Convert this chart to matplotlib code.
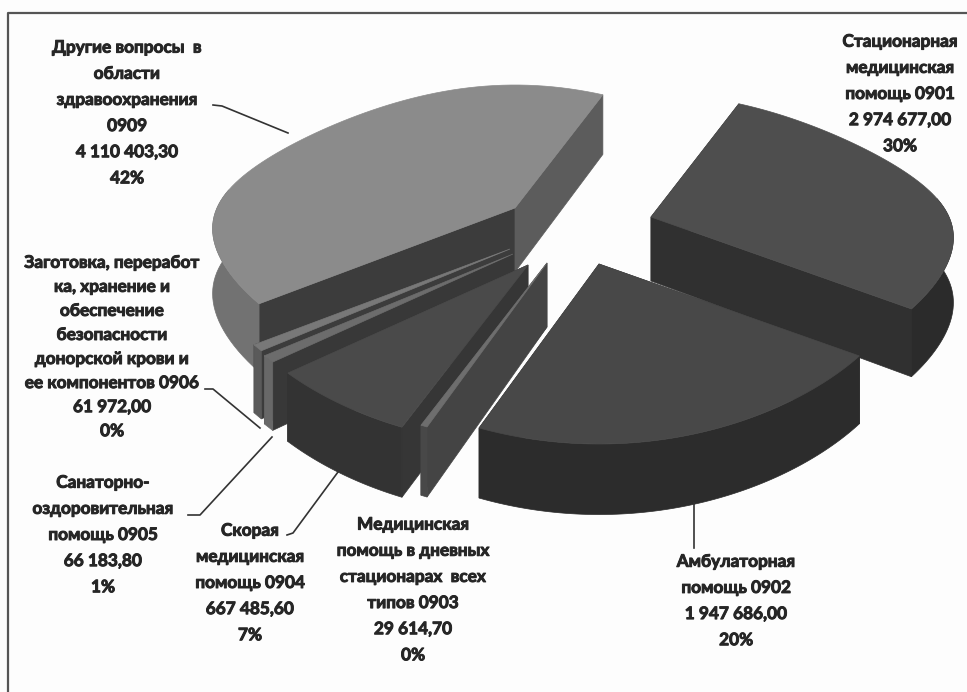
import numpy as np
import matplotlib
matplotlib.use("Agg")
import matplotlib.pyplot as plt
from matplotlib.patches import Polygon
import matplotlib.patheffects as pe

codes = ["0901", "0902", "0903", "0904", "0905", "0906", "0909"]
values = [2974677.00, 1947686.00, 29614.70, 667485.60, 66183.80, 61972.00, 4110403.30]
value_text = ["2 974 677,00", "1 947 686,00", "29 614,70", "667 485,60", "66 183,80", "61 972,00", "4 110 403,30"]
pct_text = ["30%", "20%", "0%", "7%", "1%", "0%", "42%"]
names = [
    "Стационарная\nмедицинская\nпомощь 0901",
    "Амбулаторная\nпомощь 0902",
    "Медицинская\nпомощь в дневных\nстационарах  всех\nтипов 0903",
    "Скорая\nмедицинская\nпомощь 0904",
    "Санаторно-\nоздоровительная\nпомощь 0905",
    "Заготовка, переработ\nка, хранение и\nобеспечение\nбезопасности\nдонорской крови и\nее компонентов 0906",
    "Другие вопросы  в\nобласти\nздравоохранения\n0909",
]

# style / layout, pixels of the picture
start_angle = -70.0
apex = [(651, 217), (599, 264), (547, 263), (528, 265), (513, 254), (510, 249), (515, 208)]
top_col = ["#4e4e4e", "#484848", "#6e6e6e", "#4a4a4a", "#6c6c6c", "#787878", "#8b8b8b"]
wall_col = ["#2b2b2b", "#2c2c2c", "#484848", "#333333", "#686868", "#5a5a5a", "#727272"]
first_cut_col = ["#303030", "#2c2c2c", "#444444", "#363636", "#383838", "#3c3c3c", "#3c3c3c"]
last_cut_col = ["#303030", "#2c2c2c", "#444444", "#363636", "#383838", "#3c3c3c", "#5c5c5c"]
draw_order = [0, 6, 5, 4, 3, 2, 1]
label_xy = [(900, 94), (736, 601), (413, 590), (250, 583), (103, 535), (112, 347), (127, 113)]
line_gap = [1.78, 1.78, 1.78, 1.78, 1.78, 1.62, 1.78]
leaders = [
    None,
    [(694, 503), (694, 548)],
    None,
    [(287, 535), (293, 533), (338, 472)],
    [(188, 515), (200, 515), (272, 437)],
    [(205, 389), (213, 389), (260, 428)],
    [(213, 105), (222, 106), (288, 133)],
]
rx, persp, thick = 298.0, 0.17, 64.0
yc1, yc2, yc3 = 115.4, 28.5, 36.1   # vertical foreshortening of the tilted disc


def project(ang, ctr):
    a = np.radians(ang)
    x, v = np.cos(a), np.sin(a)
    p = 1 / (1 - persp * v)
    return np.column_stack((ctr[0] + rx * x * p, ctr[1] + yc1 * v + yc2 * v**2 + yc3 * v**3)), p


def drop(p):
    return thick * (0.5 + 0.5 * p)


fig = plt.figure(figsize=(9.67, 6.92), dpi=100, facecolor="#fdfdfd")
ax = fig.add_axes([0, 0, 1, 1])
ax.set_xlim(0, 967)
ax.set_ylim(692, 0)
ax.axis("off")

ax.plot([7.5, 7.5, 967], [692, 13, 13], color="#555555", lw=1.6, zorder=1)

sweep = np.array(values) / sum(values) * 360
starts = {}
cur = start_angle
for i in range(len(values)):
    starts[i] = cur
    cur += sweep[i]

z = 2.0
for i in draw_order:
    angs = np.linspace(starts[i], starts[i] + sweep[i], 80)
    rim, p = project(angs, apex[i])
    low = rim + np.column_stack((np.zeros(len(p)), drop(p)))
    ctr = np.array(apex[i], dtype=float)
    ctr_low = ctr + [0, drop(1.0)]
    # cut faces first, then the part of the outer wall that faces us, then the top
    ax.add_patch(Polygon([ctr, rim[0], low[0], ctr_low], fc=first_cut_col[i], ec=first_cut_col[i], lw=0.5, zorder=z))
    ax.add_patch(Polygon([ctr, rim[-1], low[-1], ctr_low], fc=last_cut_col[i], ec=last_cut_col[i], lw=0.5, zorder=z + 0.01))
    seen = np.sin(np.radians(angs)) > -0.17
    if seen.any():
        ax.add_patch(Polygon(np.vstack((rim[seen], low[seen][::-1])), fc=wall_col[i], ec=wall_col[i], lw=0.5, zorder=z + 0.02))
    ax.add_patch(Polygon(np.vstack((ctr, rim)), fc=top_col[i], ec=top_col[i], lw=0.5, zorder=z + 0.03))
    z += 0.1

for i in range(len(names)):
    txt = names[i] + "\n" + value_text[i] + "\n" + pct_text[i]
    ax.text(label_xy[i][0], label_xy[i][1], txt, ha="center", va="center", family="Lato",
            fontweight="bold", fontsize=12.4, color="#262626", linespacing=line_gap[i], zorder=6,
            path_effects=[pe.withStroke(linewidth=0.7, foreground="#262626")])
    if leaders[i]:
        xs, ys = zip(*leaders[i])
        ax.plot(xs, ys, color="#333333", lw=1.2, zorder=5)

fig.savefig("out.png", dpi=100, facecolor=fig.get_facecolor())
